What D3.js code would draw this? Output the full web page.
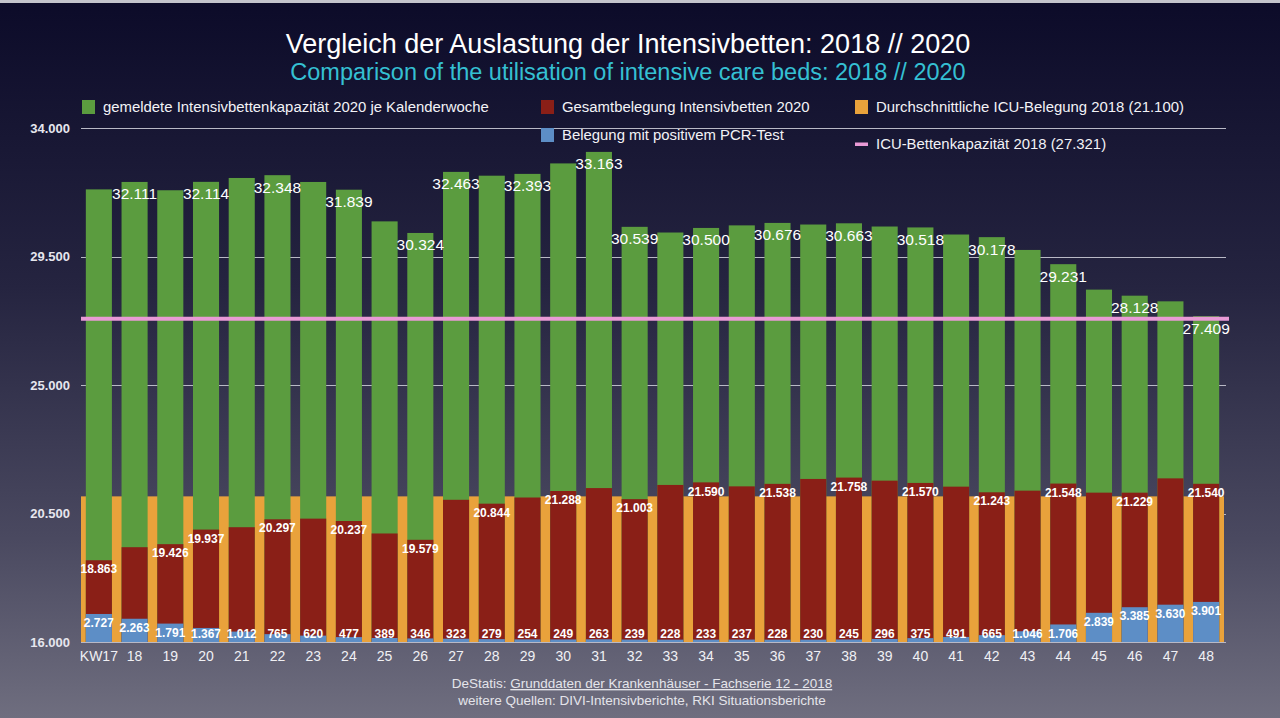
<!DOCTYPE html>
<html>
<head>
<meta charset="utf-8">
<script src="https://cdn.jsdelivr.net/npm/d3@7"></script>
<style>
  html, body { margin: 0; padding: 0; background: #0c0b29; }
  svg { display: block; }
  text { font-family: "Liberation Sans", Arial, Helvetica, sans-serif; }
</style>
</head>
<body>
<svg id="chart" width="1280" height="718"></svg>
<script>
// ---------- DATA ----------
const weeks = ["KW17","18","19","20","21","22","23","24","25","26","27","28","29","30","31","32",
               "33","34","35","36","37","38","39","40","41","42","43","44","45","46","47","48"];
// reported ICU capacity 2020 (green)
const capacity2020 = [31850,32111,31820,32114,32250,32348,32110,31839,30730,30324,32463,32330,32393,32760,33163,30539,
                      30340,30500,30590,30676,30620,30663,30550,30518,30270,30178,29730,29231,28340,28128,27930,27409];
// which green values are labelled in the original
const capacityLabelled = [false,true,false,true,false,true,false,true,false,true,true,false,true,false,true,true,
                          false,true,false,true,false,true,false,true,false,true,false,true,false,true,false,true];
// total ICU occupancy 2020 (red)
const occupancy2020 = [18863,19320,19426,19937,20020,20297,20320,20237,19800,19579,20980,20844,21060,21288,21390,21003,
                       21500,21590,21450,21538,21710,21758,21650,21570,21440,21243,21300,21548,21230,21229,21730,21540];
const occupancyLabelled = [true,false,true,true,false,true,false,true,false,true,false,true,false,true,false,true,
                           false,true,false,true,false,true,false,true,false,true,false,true,false,true,false,true];
// occupancy with positive PCR test (blue, secondary scale)
const pcrPositive = [2727,2263,1791,1367,1012,765,620,477,389,346,323,279,254,249,263,239,
                     228,233,237,228,230,245,296,375,491,665,1046,1706,2839,3385,3630,3901];
// reference values 2018
const avgOccupancy2018 = 21100;
const capacity2018 = 27321;
// axis ticks
const yTicks = [16000, 20500, 25000, 29500, 34000];

const titleDe = "Vergleich der Auslastung der Intensivbetten: 2018 // 2020";
const titleEn = "Comparison of the utilisation of intensive care beds: 2018 // 2020";
const legendItems = [
  {label: "gemeldete Intensivbettenkapazität 2020 je Kalenderwoche", key: "cap"},
  {label: "Gesamtbelegung Intensivbetten 2020", key: "occ"},
  {label: "Durchschnittliche ICU-Belegung 2018 (21.100)", key: "avg"},
  {label: "Belegung mit positivem PCR-Test", key: "pcr"},
  {label: "ICU-Bettenkapazität 2018 (27.321)", key: "cap18"}
];
const sourcePrefix = "DeStatis: ";
const sourceLink = "Grunddaten der Krankenhäuser - Fachserie 12 - 2018";
const sourceMore = "weitere Quellen: DIVI-Intensivberichte, RKI Situationsberichte";

// ---------- STYLE ----------
const colors = {cap: "#5b9c3f", occ: "#8a1f17", avg: "#e9a23b", pcr: "#5d8ec6", cap18: "#e99ad6"};

const de = d3.formatLocale({decimal: ",", thousands: ".", grouping: [3], currency: ["", " €"]});
const fmt = de.format(",.0f");

const svg = d3.select("#chart");
const W = 1280, H = 718;
const defs = svg.append("defs");
const grad = defs.append("linearGradient").attr("id", "bg").attr("x1", 0).attr("y1", 0).attr("x2", 0).attr("y2", 1);
grad.append("stop").attr("offset", "0%").attr("stop-color", "#0c0b29");
grad.append("stop").attr("offset", "40%").attr("stop-color", "#252440");
grad.append("stop").attr("offset", "75%").attr("stop-color", "#4a4960");
grad.append("stop").attr("offset", "100%").attr("stop-color", "#6f6e7f");
svg.append("rect").attr("width", W).attr("height", H).attr("fill", "url(#bg)");
svg.append("rect").attr("width", W).attr("height", 3).attr("fill", "#c4c4cc");

// ---------- SCALES ----------
const x = d3.scaleBand().domain(weeks).range([81, 1224]).paddingInner(0.27).paddingOuter(0.135);
const y = d3.scaleLinear().domain([16000, 34000]).range([642, 128]);
const y2 = d3.scaleLinear().domain([0, 50000]).range([642, 128]); // hidden secondary axis for PCR bars

// ---------- TITLES ----------
svg.append("text").attr("x", 628).attr("y", 53).attr("text-anchor", "middle")
  .attr("fill", "#ffffff").attr("font-size", 27).text(titleDe);
svg.append("text").attr("x", 628).attr("y", 80).attr("text-anchor", "middle")
  .attr("fill", "#35c0d3").attr("font-size", 23.5).text(titleEn);

// ---------- GRID + Y AXIS ----------
const gridG = svg.append("g");
gridG.selectAll("line").data(yTicks).join("line")
  .attr("x1", 81).attr("x2", 1226)
  .attr("y1", d => Math.round(y(d)) + 0.5).attr("y2", d => Math.round(y(d)) + 0.5)
  .attr("stroke", "#b9b9c6").attr("stroke-width", 1);

const yAxis = svg.append("g").attr("transform", "translate(81,0)")
  .call(d3.axisLeft(y).tickValues(yTicks).tickFormat(fmt).tickSize(0).tickPadding(11));
yAxis.select(".domain").remove();
yAxis.selectAll("text").attr("fill", "#e6e6ee").attr("font-size", 13).attr("font-weight", "bold")
  .attr("font-family", "'Liberation Sans', Arial, sans-serif");

// ---------- BARS ----------
// average 2018 occupancy (orange band behind all bars)
svg.append("rect")
  .attr("x", x.range()[0]).attr("width", x.range()[1] - x.range()[0])
  .attr("y", y(avgOccupancy2018)).attr("height", y(16000) - y(avgOccupancy2018))
  .attr("fill", colors.avg);

svg.append("g").selectAll("rect").data(weeks).join("rect")
  .attr("x", d => x(d)).attr("width", x.bandwidth())
  .attr("y", (d, i) => y(capacity2020[i])).attr("height", (d, i) => y(16000) - y(capacity2020[i]))
  .attr("fill", colors.cap);

svg.append("g").selectAll("rect").data(weeks).join("rect")
  .attr("x", d => x(d)).attr("width", x.bandwidth())
  .attr("y", (d, i) => y(occupancy2020[i])).attr("height", (d, i) => y(16000) - y(occupancy2020[i]))
  .attr("fill", colors.occ);

svg.append("g").selectAll("rect").data(weeks).join("rect")
  .attr("x", d => x(d)).attr("width", x.bandwidth())
  .attr("y", (d, i) => y2(pcrPositive[i])).attr("height", (d, i) => y2(0) - y2(pcrPositive[i]))
  .attr("fill", colors.pcr);

// ICU capacity 2018 line
svg.append("line")
  .attr("x1", 81).attr("x2", 1229)
  .attr("y1", y(capacity2018)).attr("y2", y(capacity2018))
  .attr("stroke", colors.cap18).attr("stroke-width", 4);

// ---------- X AXIS ----------
const xAxis = svg.append("g").attr("transform", "translate(0,642)")
  .call(d3.axisBottom(x).tickSize(0).tickPadding(9));
xAxis.select(".domain").remove();
xAxis.selectAll("text").attr("fill", "#f0f0f4").attr("font-size", 14)
  .attr("font-family", "'Liberation Sans', Arial, sans-serif");

// ---------- VALUE LABELS ----------
const cx = d => x(d) + x.bandwidth() / 2;
const lab = svg.append("g").attr("fill", "#ffffff").attr("text-anchor", "middle");

lab.selectAll("text.cap").data(weeks.filter((d, i) => capacityLabelled[i])).join("text")
  .attr("class", "cap")
  .attr("x", d => cx(d))
  .attr("y", d => y(capacity2020[weeks.indexOf(d)]) + 12)
  .attr("dy", "0.35em")
  .attr("font-size", 15.5)
  .text(d => fmt(capacity2020[weeks.indexOf(d)]));

lab.selectAll("text.occ").data(weeks.filter((d, i) => occupancyLabelled[i])).join("text")
  .attr("class", "occ")
  .attr("x", d => cx(d))
  .attr("y", d => y(occupancy2020[weeks.indexOf(d)]) + 9)
  .attr("dy", "0.35em")
  .attr("font-size", 12).attr("font-weight", "bold")
  .text(d => fmt(occupancy2020[weeks.indexOf(d)]));

lab.selectAll("text.pcr").data(weeks).join("text")
  .attr("class", "pcr")
  .attr("x", d => cx(d))
  .attr("y", (d, i) => Math.min(y2(pcrPositive[i]) + 9, 634))
  .attr("dy", "0.35em")
  .attr("font-size", 12).attr("font-weight", "bold")
  .text((d, i) => fmt(pcrPositive[i]));

// ---------- LEGEND ----------
const legPos = {
  cap: [82, 107], occ: [541, 107], avg: [855, 107], pcr: [541, 135], cap18: [855, 144]
};
const leg = svg.append("g");
legendItems.forEach(it => {
  const [lx, ly] = legPos[it.key];
  if (it.key === "cap18") {
    leg.append("rect").attr("x", lx).attr("y", ly - 1.5).attr("width", 13).attr("height", 3.5).attr("fill", colors[it.key]);
  } else {
    leg.append("rect").attr("x", lx).attr("y", ly - 7).attr("width", 13).attr("height", 14).attr("fill", colors[it.key]);
  }
  leg.append("text").attr("x", lx + 21).attr("y", ly).attr("dy", "0.35em")
    .attr("fill", "#f2f2f6").attr("font-size", 14.9).text(it.label);
});

// ---------- SOURCE ----------
const src = svg.append("text").attr("x", 642).attr("y", 688).attr("text-anchor", "middle")
  .attr("fill", "#e4e4ea").attr("font-size", 13.5);
src.append("tspan").text(sourcePrefix);
src.append("tspan").attr("text-decoration", "underline").text(sourceLink);
svg.append("text").attr("x", 642).attr("y", 705).attr("text-anchor", "middle")
  .attr("fill", "#e4e4ea").attr("font-size", 13.5).text(sourceMore);
</script>
</body>
</html>
